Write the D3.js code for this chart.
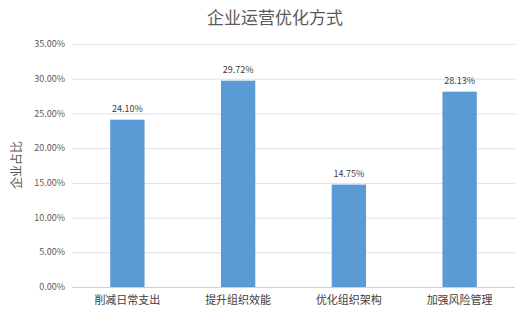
<!DOCTYPE html>
<html>
<head>
<meta charset="utf-8">
<script src="https://cdnjs.cloudflare.com/ajax/libs/d3/7.8.5/d3.min.js"></script>
<style>
  body { margin: 0; background: #fff; }
  text { font-family: "Noto Sans CJK SC", "Microsoft YaHei", sans-serif; }
</style>
</head>
<body>
<div id="chart"></div>
<script>
var categories = ['削减日常支出', '提升组织效能', '优化组织架构', '加强风险管理'];
var values = [24.10, 29.72, 14.75, 28.13];
var yTicks = [0, 5, 10, 15, 20, 25, 30, 35];

var width = 525, height = 316;
var margin = { top: 44, right: 10, bottom: 29, left: 72 };

var svg = d3.select('#chart').append('svg')
  .attr('width', width)
  .attr('height', height);

var x = d3.scaleBand()
  .domain(categories)
  .range([margin.left, width - margin.right])
  .paddingInner(0.69)
  .paddingOuter(0.345);

var y = d3.scaleLinear()
  .domain([0, 35])
  .range([height - margin.bottom, margin.top]);

// gridlines
svg.append('g')
  .selectAll('line')
  .data(yTicks)
  .enter().append('line')
  .attr('x1', margin.left)
  .attr('x2', width - margin.right)
  .attr('y1', function (d) { return y(d) + 0.5; })
  .attr('y2', function (d) { return y(d) + 0.5; })
  .attr('stroke', function (d) { return d === 0 ? '#d0d0d0' : '#e0e0e0'; })
  .attr('stroke-width', 1);

// y tick labels
svg.append('g')
  .selectAll('text')
  .data(yTicks)
  .enter().append('text')
  .attr('x', margin.left - 7)
  .attr('y', function (d) { return y(d); })
  .attr('dy', '0.35em')
  .attr('text-anchor', 'end')
  .attr('font-size', 9)
  .attr('fill', '#595959')
  .text(function (d) { return d.toFixed(2) + '%'; });

// bars
svg.append('g')
  .selectAll('rect')
  .data(values)
  .enter().append('rect')
  .attr('x', function (d, i) { return x(categories[i]); })
  .attr('y', function (d) { return y(d); })
  .attr('width', x.bandwidth())
  .attr('height', function (d) { return y(0) - y(d); })
  .attr('fill', '#5b9bd5');

// value labels
svg.append('g')
  .selectAll('text')
  .data(values)
  .enter().append('text')
  .attr('x', function (d, i) { return x(categories[i]) + x.bandwidth() / 2; })
  .attr('y', function (d) { return y(d) - 8; })
  .attr('text-anchor', 'middle')
  .attr('font-size', 9)
  .attr('fill', '#404040')
  .text(function (d) { return d.toFixed(2) + '%'; });

// category labels
svg.append('g')
  .selectAll('text')
  .data(categories)
  .enter().append('text')
  .attr('x', function (d) { return x(d) + x.bandwidth() / 2; })
  .attr('y', height - margin.bottom + 17)
  .attr('text-anchor', 'middle')
  .attr('font-size', 11)
  .attr('fill', '#404040')
  .text(function (d) { return d; });

// title
svg.append('text')
  .attr('x', 275)
  .attr('y', 24)
  .attr('text-anchor', 'middle')
  .attr('font-size', 17)
  .attr('fill', '#595959')
  .text('企业运营优化方式');

// y axis title
svg.append('text')
  .attr('transform', 'translate(21,' + 165 + ') rotate(-90)')
  .attr('text-anchor', 'middle')
  .attr('font-size', 12)
  .attr('fill', '#595959')
  .text('企业占比');
</script>
</body>
</html>
